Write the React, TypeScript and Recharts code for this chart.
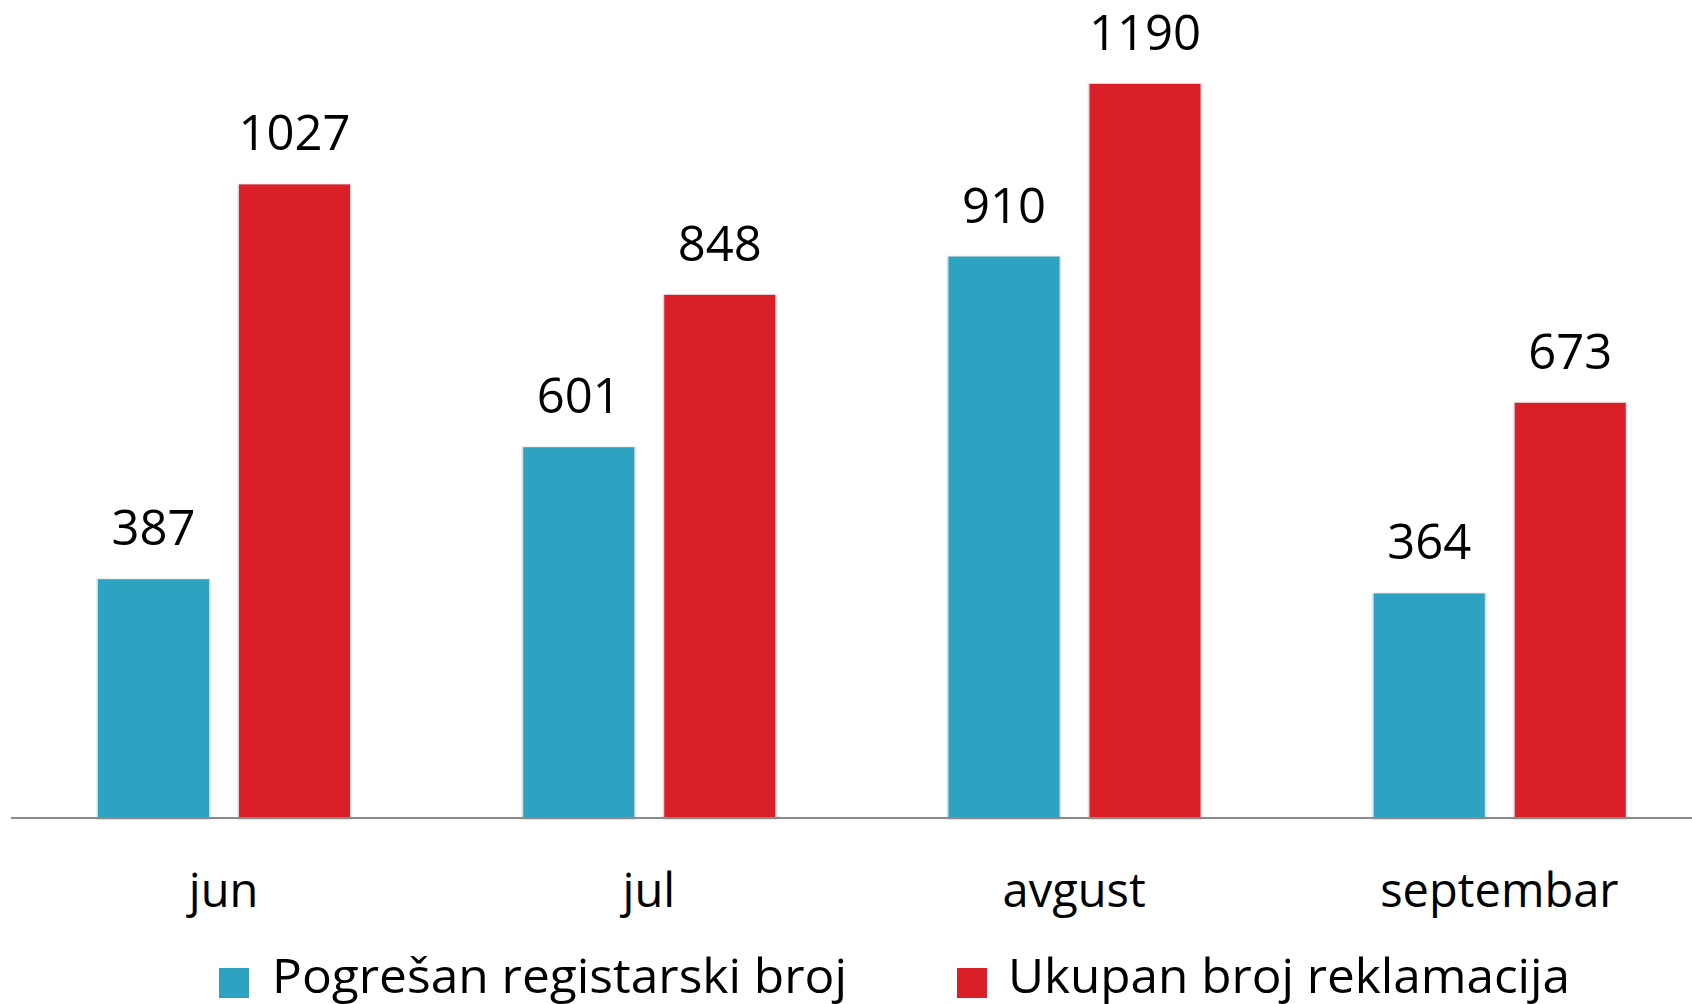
import React from 'react'
import { BarChart, Bar, XAxis, YAxis, LabelList, Legend } from 'recharts'

const months = ['jun', 'jul', 'avgust', 'septembar']
const wrongPlate = [387, 601, 910, 364]
const totalComplaints = [1027, 848, 1190, 673]
const seriesNames = ['Pogrešan registarski broj', 'Ukupan broj reklamacija']

const BLUE = '#2ea3c1'
const RED = '#da1f29'
const FONT = '"Open Sans", "Noto Sans", sans-serif'

const data = months.map((m, i) => ({
  month: m,
  wrong: wrongPlate[i],
  total: totalComplaints[i],
}))

// bars get a soft grey drop shadow like the original
const ShadowBar = (props: any) => {
  const { x, y, width, height, fill } = props
  if (!height || height <= 0) return null
  return (
    <g>
      <rect x={x - 2} y={y - 1} width={width + 4} height={height + 3} fill="#000" opacity={0.08} />
      <rect x={x - 1} y={y} width={width + 2} height={height + 1.5} fill="#000" opacity={0.08} />
      <rect x={x} y={y} width={width} height={height} fill={fill} />
    </g>
  )
}

const MonthTick = (props: any) => {
  const { x, y, payload } = props
  return (
    <text x={x} y={y + 89} textAnchor="middle" fill="#000" fontSize={47} fontFamily={FONT}>
      {payload.value}
    </text>
  )
}

const LegendContent = () => (
  <svg width={1692} height={64} style={{ display: 'block' }}>
    <rect x={219} y={28} width={30} height={30} fill={BLUE} />
    <text x={272} y={53} fontSize={48} fontFamily={FONT} fill="#000"
      textLength={575} lengthAdjust="spacingAndGlyphs">
      {seriesNames[0]}
    </text>
    <rect x={957} y={28} width={30} height={30} fill={RED} />
    <text x={1008} y={53} fontSize={48} fontFamily={FONT} fill="#000"
      textLength={562} lengthAdjust="spacingAndGlyphs">
      {seriesNames[1]}
    </text>
  </svg>
)

export default function App() {
  return (
    <div style={{ position: 'fixed', left: 0, top: 0, width: 1692, height: 1004, overflow: 'hidden', background: '#fff' }}>
      <BarChart
        width={1712}
        height={1004}
        data={data}
        margin={{ top: 16, right: 0, left: 11, bottom: 86 }}
        barSize={111}
        barGap={30}
      >
        <XAxis
          dataKey="month"
          height={100}
          tickLine={false}
          tickSize={0}
          tickMargin={0}
          axisLine={{ stroke: '#8a8a8a', strokeWidth: 2 }}
          tick={<MonthTick />}
          interval={0}
        />
        <YAxis hide domain={[0, 1300]} />
        <Legend
          verticalAlign="middle"
          align="center"
          content={<LegendContent />}
          wrapperStyle={{ top: 940, left: 0, width: 1692, height: 64 }}
        />
        <Bar dataKey="wrong" name={seriesNames[0]} fill={BLUE} shape={<ShadowBar />} isAnimationActive={false}>
          <LabelList dataKey="wrong" position="top" offset={34} fill="#000" fontSize={49} fontFamily={FONT} />
        </Bar>
        <Bar dataKey="total" name={seriesNames[1]} fill={RED} shape={<ShadowBar />} isAnimationActive={false}>
          <LabelList dataKey="total" position="top" offset={34} fill="#000" fontSize={49} fontFamily={FONT} />
        </Bar>
      </BarChart>
    </div>
  )
}
